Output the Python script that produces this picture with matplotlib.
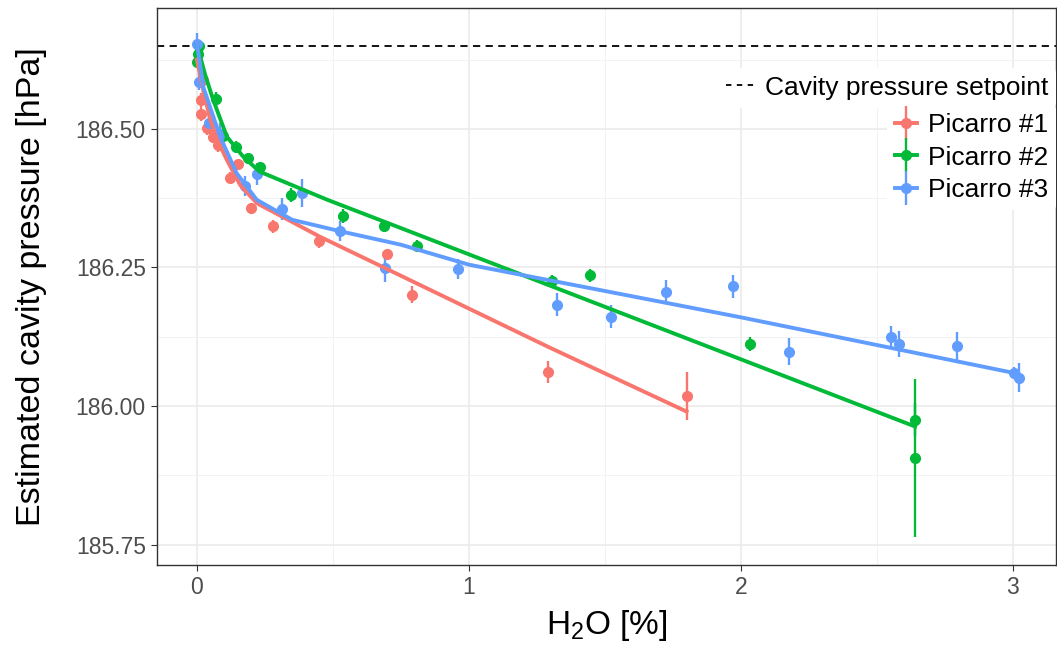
import matplotlib
matplotlib.use("Agg")
import matplotlib.pyplot as plt
from matplotlib.lines import Line2D
from matplotlib.legend_handler import HandlerTuple

plt.rcParams['font.family'] = ['Liberation Sans', 'DejaVu Sans']
plt.rcParams['mathtext.default'] = 'regular'

# ---- data ----
setpoint = 186.65

p1_x = [0.023, 0.014, 0.014, 0.036, 0.058, 0.078, 0.150, 0.120, 0.200, 0.280, 0.450, 0.700, 0.790, 1.290, 1.800]
p1_y = [186.588, 186.552, 186.527, 186.501, 186.486, 186.471, 186.437, 186.412, 186.357, 186.324, 186.297, 186.275, 186.201, 186.062, 186.018]
p1_err = [0.012, 0.012, 0.012, 0.012, 0.012, 0.012, 0.006, 0.010, 0.010, 0.012, 0.012, 0.006, 0.015, 0.020, 0.043]

p2_x = [0.008, 0.001, 0.005, 0.070, 0.097, 0.143, 0.189, 0.232, 0.346, 0.538, 0.688, 0.810, 1.304, 1.446, 2.034, 2.638, 2.641]
p2_y = [186.649, 186.621, 186.635, 186.554, 186.487, 186.468, 186.447, 186.431, 186.381, 186.343, 186.324, 186.289, 186.226, 186.236, 186.112, 185.975, 185.906]
p2_err = [0.008, 0.010, 0.008, 0.012, 0.010, 0.010, 0.010, 0.010, 0.012, 0.012, 0.010, 0.010, 0.010, 0.012, 0.012, 0.030, 0.143]

p3_x = [0.001, 0.008, 0.045, 0.085, 0.176, 0.222, 0.311, 0.386, 0.526, 0.691, 0.960, 1.325, 1.522, 1.726, 1.971, 2.176, 2.550, 2.580, 2.795, 3.005, 3.022]
p3_y = [186.653, 186.585, 186.510, 186.490, 186.397, 186.418, 186.355, 186.384, 186.316, 186.249, 186.248, 186.183, 186.161, 186.206, 186.216, 186.098, 186.125, 186.112, 186.108, 186.060, 186.051]
p3_err = [0.020, 0.015, 0.020, 0.020, 0.018, 0.020, 0.020, 0.025, 0.018, 0.025, 0.018, 0.021, 0.021, 0.022, 0.021, 0.024, 0.020, 0.023, 0.025, 0.010, 0.026]

# fitted curves
fit1_x = [0.000, 0.025, 0.050, 0.080, 0.110, 0.160, 0.220, 0.450, 0.750, 1.290, 1.800]
fit1_y = [186.625, 186.565, 186.515, 186.475, 186.444, 186.398, 186.366, 186.306, 186.235, 186.107, 185.990]

fit2_x = [0.000, 0.030, 0.060, 0.110, 0.170, 0.230, 0.480, 0.750, 2.640]
fit2_y = [186.652, 186.598, 186.552, 186.486, 186.450, 186.423, 186.372, 186.321, 185.963]

fit3_x = [0.000, 0.023, 0.085, 0.146, 0.220, 0.350, 0.530, 0.750, 1.000, 2.000, 3.020]
fit3_y = [186.655, 186.576, 186.486, 186.420, 186.372, 186.336, 186.315, 186.291, 186.255, 186.160, 186.058]

names = ['Picarro #1', 'Picarro #2', 'Picarro #3']
colors = ['#F8766D', '#00BA38', '#619CFF']

fig = plt.figure(figsize=(10.57, 6.48), dpi=100)
ax = fig.add_axes([0.1485, 0.128, 0.8505, 0.8595])

ax.axhline(setpoint, color='black', ls=(0, (4, 3)), lw=1.3, zorder=2)

series = [(p1_x, p1_y, p1_err, fit1_x, fit1_y),
          (p2_x, p2_y, p2_err, fit2_x, fit2_y),
          (p3_x, p3_y, p3_err, fit3_x, fit3_y)]
for (x, y, e, fx, fy), c in zip(series, colors):
    ax.errorbar(x, y, yerr=e, fmt='o', color=c, ms=7, elinewidth=1.7, capsize=0, zorder=3)
    ax.plot(fx, fy, color=c, lw=2.8, zorder=4, solid_joinstyle='round')

ax.set_xlim(-0.147, 3.158)
ax.set_ylim(185.713, 186.718)
ax.set_xticks([0, 1, 2, 3])
ax.set_xticks([0.5, 1.5, 2.5], minor=True)
ax.set_yticks([185.75, 186.00, 186.25, 186.50])
ax.set_yticks([185.875, 186.125, 186.375, 186.625], minor=True)
ax.set_yticklabels(['185.75', '186.00', '186.25', '186.50'])
ax.grid(which='major', color='#EBEBEB', lw=1.2, zorder=0)
ax.grid(which='minor', color='#F2F2F2', lw=0.7, zorder=0)
ax.set_axisbelow(True)
ax.tick_params(which='major', direction='out', length=4, width=0.8, color='#333333',
               labelsize=16.5, labelcolor='#4D4D4D', pad=4)
ax.tick_params(which='minor', length=0)
for s in ax.spines.values():
    s.set_color('#333333')
    s.set_linewidth(1.0)

ax.set_xlabel('H$_2$O [%]', fontsize=24, labelpad=6)
ax.set_ylabel('Estimated cavity pressure [hPa]', fontsize=24.5, labelpad=21)

# legends
h_set = Line2D([], [], color='black', ls=(0, (3, 3)), lw=1.3)
leg1 = ax.legend([h_set], ['Cavity pressure setpoint'], loc='upper right',
                 bbox_to_anchor=(1.0, 0.893), fontsize=19, frameon=True, facecolor='white',
                 edgecolor='none', framealpha=1, handlelength=1.1, handletextpad=0.35,
                 borderpad=0.3, borderaxespad=0)
ax.add_artist(leg1)
handles = []
for c in colors:
    hl = Line2D([], [], color=c, lw=2.8)
    hv = Line2D([], [], color=c, marker='|', ms=25, mew=1.7, ls='none')
    hp = Line2D([], [], color=c, marker='o', ms=7, ls='none')
    handles.append((hl, hv, hp))
leg2 = ax.legend(handles, names, loc='upper right', bbox_to_anchor=(1.0, 0.826),
                 fontsize=19, frameon=True, facecolor='white', edgecolor='none', framealpha=1,
                 handlelength=0.85, handletextpad=0.4, labelspacing=0.33, borderpad=0.3,
                 borderaxespad=0, handler_map={tuple: HandlerTuple(ndivide=1, pad=0)})

fig.savefig('out.png', dpi=100)
